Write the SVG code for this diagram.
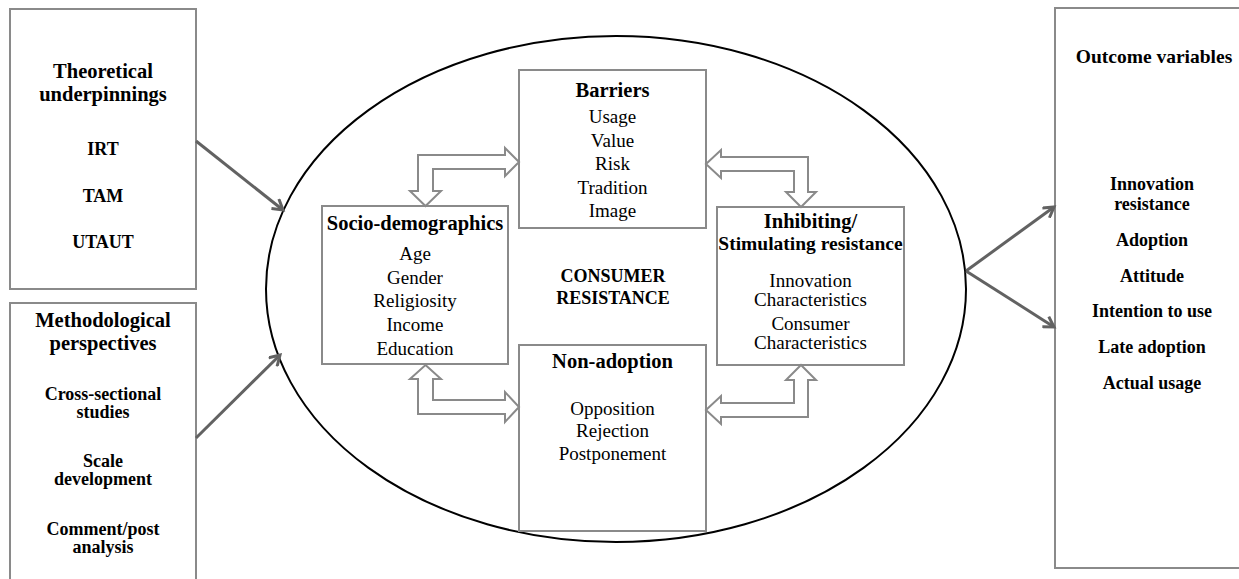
<svg xmlns="http://www.w3.org/2000/svg" width="1239" height="579" viewBox="0 0 1239 579">
<style>
.box{fill:#fff;stroke:#8a8a8a;stroke-width:2}
.conn{stroke:#626262;stroke-width:3;fill:none}
.dbl{fill:#fff;stroke:#8a8a8a;stroke-width:2;stroke-linejoin:miter}
text{font-family:"Liberation Serif","Times New Roman",serif;fill:#000;text-anchor:middle}
.h{font-weight:bold;font-size:20.5px}
.b{font-weight:bold;font-size:18px}
.r{font-size:19px}
</style>
<defs>
<marker id="ah" markerWidth="14" markerHeight="14" refX="11" refY="7" orient="auto" markerUnits="userSpaceOnUse">
<path d="M1,1 L11,7 L1,13" fill="none" stroke="#626262" stroke-width="3"/>
</marker>
</defs>
<rect width="1239" height="579" fill="#fff"/>
<g id="ellipse-consumer-resistance">
<ellipse cx="616" cy="289" rx="350" ry="253" fill="none" stroke="#000" stroke-width="2"/>
<text class="b" x="613" y="282">CONSUMER</text>
<text class="b" x="613" y="304">RESISTANCE</text>
</g>
<g id="theoretical">
<rect class="box" x="10" y="9" width="186" height="280"/>
<text class="h" x="103" y="78">Theoretical</text>
<text class="h" x="103" y="101">underpinnings</text>
<text class="b" x="103" y="155">IRT</text>
<text class="b" x="103" y="202">TAM</text>
<text class="b" x="103" y="248">UTAUT</text>
</g>
<g id="methodological">
<rect class="box" x="10" y="303" width="186" height="300"/>
<text class="h" x="103" y="327">Methodological</text>
<text class="h" x="103" y="350">perspectives</text>
<text class="b" x="103" y="400">Cross-sectional</text>
<text class="b" x="103" y="418">studies</text>
<text class="b" x="103" y="467">Scale</text>
<text class="b" x="103" y="485">development</text>
<text class="b" x="103" y="535">Comment/post</text>
<text class="b" x="103" y="553">analysis</text>
</g>
<g id="outcome">
<rect class="box" x="1055" y="8" width="200" height="560"/>
<text class="b" x="1154" y="63" style="font-size:19.5px">Outcome variables</text>
<text class="b" x="1152" y="190">Innovation</text>
<text class="b" x="1152" y="210">resistance</text>
<text class="b" x="1152" y="246">Adoption</text>
<text class="b" x="1152" y="282">Attitude</text>
<text class="b" x="1152" y="317">Intention to use</text>
<text class="b" x="1152" y="353">Late adoption</text>
<text class="b" x="1152" y="389">Actual usage</text>
</g>
<g id="barriers">
<rect class="box" x="519" y="70" width="187" height="158"/>
<text class="h" x="612.5" y="97">Barriers</text>
<text class="r" x="612.5" y="123">Usage</text>
<text class="r" x="612.5" y="147">Value</text>
<text class="r" x="612.5" y="170">Risk</text>
<text class="r" x="612.5" y="194">Tradition</text>
<text class="r" x="612.5" y="217">Image</text>
</g>
<g id="socio">
<rect class="box" x="322" y="206" width="186" height="158"/>
<text class="h" x="415" y="230">Socio-demographics</text>
<text class="r" x="415" y="260">Age</text>
<text class="r" x="415" y="284">Gender</text>
<text class="r" x="415" y="307">Religiosity</text>
<text class="r" x="415" y="331">Income</text>
<text class="r" x="415" y="355">Education</text>
</g>
<g id="inhibiting">
<rect class="box" x="717" y="207" width="187" height="158"/>
<text class="h" x="810.5" y="228">Inhibiting/</text>
<text class="h" x="810.5" y="250" style="font-size:19.5px">Stimulating resistance</text>
<text class="r" x="810.5" y="287">Innovation</text>
<text class="r" x="810.5" y="306">Characteristics</text>
<text class="r" x="810.5" y="330">Consumer</text>
<text class="r" x="810.5" y="349">Characteristics</text>
</g>
<g id="non-adoption">
<rect class="box" x="519" y="345" width="187" height="186"/>
<text class="h" x="612.5" y="368">Non-adoption</text>
<text class="r" x="612.5" y="415">Opposition</text>
<text class="r" x="612.5" y="437">Rejection</text>
<text class="r" x="612.5" y="460">Postponement</text>
</g>
<g id="connectors">
<line class="conn" x1="196" y1="141" x2="283" y2="210" marker-end="url(#ah)"/>
<line class="conn" x1="196" y1="438" x2="280" y2="355" marker-end="url(#ah)"/>
<line class="conn" x1="966" y1="271" x2="1054" y2="207" marker-end="url(#ah)"/>
<line class="conn" x1="966" y1="271" x2="1054" y2="327" marker-end="url(#ah)"/>
<polygon class="dbl" points="418,155 505,155 505,148 519,162 505,176 505,169 433,169 433,191 441,191 425.5,206 410,191 418,191"/>
<polygon class="dbl" points="706,164 721,150 721,157 808,157 808,192 816,192 801,207 786,192 794,192 794,171 721,171 721,178"/>
<polygon class="dbl" points="425.5,365 441,379 433,379 433,400 505,400 505,392 519,407 505,422 505,414 418,414 418,379 410,379"/>
<polygon class="dbl" points="706,410 721,396 721,403 794,403 794,380 786,380 801,365 816,380 808,380 808,417 721,417 721,424"/>
</g>
</svg>
